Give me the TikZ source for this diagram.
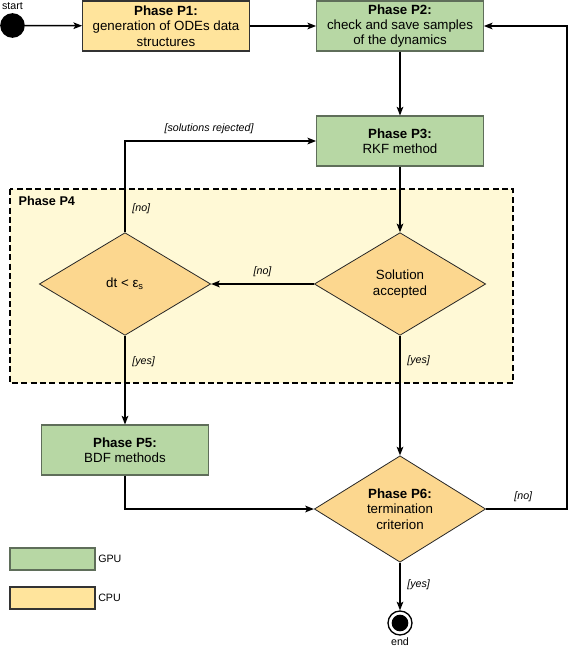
\documentclass[tikz,border=0pt]{standalone}
\usepackage{fontspec}
\setmainfont{Liberation Sans}
\usepackage{xcolor}
\usetikzlibrary{arrows, arrows.meta}
\usetikzlibrary{positioning}
\usetikzlibrary{shapes.geometric}
\usetikzlibrary{calc}
\definecolor{gpuFill}{RGB}{183,215,164}
\definecolor{gpuLine}{RGB}{95,110,90}
\definecolor{cpuFill}{RGB}{255,228,156}
\definecolor{testFill}{RGB}{252,215,143}
\definecolor{phaseFill}{RGB}{255,249,214}
\begin{document}
\begin{tikzpicture}[x=0.75pt, y=-0.75pt, font=\fontsize{10}{11.5}\selectfont,
	gpu/.style={draw=gpuLine, fill=gpuFill, line width=0.8pt, minimum width=125pt, minimum height=37.5pt, align=center, inner sep=1pt},
	cpu/.style={gpu, draw=black!80, fill=cpuFill},
	test/.style={diamond, draw=black!85, fill=testFill, line width=0.6pt, minimum width=128.5pt, minimum height=77pt, inner sep=0pt, align=center},
	flow/.style={-{Stealth[length=6.5pt, width=5pt, inset=1.5pt]}, line width=1.1pt},
	guard/.style={font=\fontsize{8}{9}\selectfont\itshape, inner sep=5pt},
	small/.style={font=\fontsize{8}{9}\selectfont, inner sep=0pt}]
	\useasboundingbox (0,0) rectangle (568,647);
	\draw[fill=phaseFill, dashed, line width=1.5pt, dash pattern=on 4.5pt off 2.5pt] (10,189) rectangle (513,383);
	\node[anchor=west, font=\fontsize{9.5}{11}\selectfont\bfseries] (p4) at (14,201) {Phase P4};

	\node[circle, fill=black, minimum size=18.5pt, inner sep=0pt] (start) at (12.5,25.5) {};
	\node[small, above=2pt of start] (startText) {start};
	\node[cpu] (p1) at (166,26) {\textbf{Phase P1:}\\generation of ODEs data\\structures};
	\node[gpu] (p2) at (400,26) {\textbf{Phase P2:}\\check and save samples\\of the dynamics};
	\node[gpu] (p3) at (400,141) {\textbf{Phase P3:}\\RKF method};
	\node[test] (dt) at (125,284) {dt < ε\textsubscript{s}};
	\node[test] (sol) at (400,284) {Solution\\accepted};
	\node[gpu] (p5) at (125,450) {\textbf{Phase P5:}\\BDF methods};
	\node[test, minimum height=75pt] (p6) at (400,509) {\textbf{Phase P6:}\\termination\\criterion};
	\node[circle, draw=black, line width=1pt, fill=white, minimum size=18pt, inner sep=0pt] (end) at (400,623) {};
	\node[circle, fill=black, minimum size=12.5pt, inner sep=0pt] (endDot) at (end) {};
	\node[small, below=1pt of end] (endText) {end};
	\coordinate (back) at (567,26);

	\foreach \kind/\txt/\yLeg in {gpu/GPU/559, cpu/CPU/598}
	{
		\node[\kind, minimum width=63.75pt, minimum height=16.5pt] (\txt box) at (52.5,\yLeg) {};
		\node[small, anchor=west] (\txt) at (98,\yLeg) {\txt};
	}

	\draw[flow] (start) -- (p1);
	\draw[flow] (p1) -- (p2);
	\draw[flow] (p2) -- (p3);
	\draw[flow] (p3) -- (sol);
	\draw[flow] (sol) -- node[guard, above] {[no]} (dt);
	\draw[flow] (dt.north) |- node[guard, pos=0.13, right] {[no]} node[guard, pos=0.72, above] {[solutions rejected]} (p3.west);
	\draw[flow] (dt) -- node[guard, pos=0.29, right] {[yes]} (p5);
	\draw[flow] (sol) -- node[guard, pos=0.21, right] {[yes]} (p6);
	\draw[flow] (p5.south) |- (p6.west);
	\draw[flow] (p6.east) -| node[guard, pos=0.23, above] {[no]} (back) -- (p2.east);
	\draw[flow] (p6) -- node[guard, pos=0.46, right] {[yes]} (end);
\end{tikzpicture}
\end{document}
